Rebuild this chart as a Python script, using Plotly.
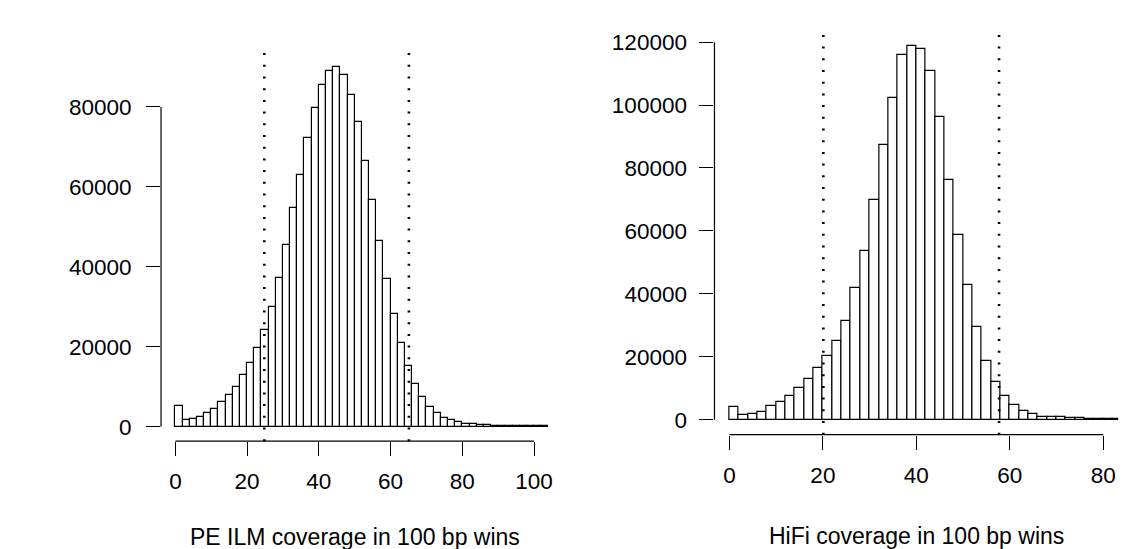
import plotly.graph_objects as go

W, H = 1130, 549
FONT = "Liberation Sans, Arial, Helvetica, sans-serif"

# ---------------- data ----------------
bin_width = 2
pe_counts = [5300, 1750, 2000, 2600, 3400, 4550, 6150, 7900, 10050, 13050,
             16050, 19850, 24350, 30100, 37150, 45500, 54700, 63100, 72250, 79750,
             85550, 89050, 89900, 88050, 83050, 76150, 66600, 56800, 46500, 36900,
             28350, 21050, 15200, 10650, 7550, 4900, 3500, 2350, 1650, 1150,
             850, 650, 500, 420, 340, 300, 250, 220, 200, 170, 150, 130]
hifi_counts = [4100, 1500, 1800, 2500, 4300, 5600, 7700, 10100, 12950, 16550,
               20150, 25000, 31550, 41750, 53700, 69950, 87350, 102300, 115800, 118800,
               117900, 110950, 96300, 76350, 58850, 42850, 29550, 18650, 11900, 7500,
               4750, 2850, 1700, 1050, 850, 750, 550, 450, 400, 350, 250, 200]

pe_xticks = [0, 20, 40, 60, 80, 100]
pe_yticks = [0, 20000, 40000, 60000, 80000]
hifi_xticks = [0, 20, 40, 60, 80]
hifi_yticks = [0, 20000, 40000, 60000, 80000, 100000, 120000]

pe_cutoffs = [24.8, 65.1]
hifi_cutoffs = [20.1, 57.7]

pe_xlim = [0, 100]
hifi_xlim = [0, 80]

pe_title = "PE ILM coverage in 100 bp wins"
hifi_title = "HiFi coverage in 100 bp wins"

# ---------------- helpers ----------------
def centers(counts):
    return [i * bin_width + bin_width / 2 for i in range(len(counts))]

def ext(lo, hi):
    d = (hi - lo) * 0.04
    return [lo - d, hi + d]

def fx(px):
    return px / W

def fy(py):
    return (H - py) / H

fig = go.Figure()

bar_style = dict(marker=dict(color="white", line=dict(color="black", width=1.2)),
                 width=bin_width, showlegend=False, hoverinfo="x+y")

fig.add_trace(go.Bar(x=centers(pe_counts), y=pe_counts, xaxis="x", yaxis="y", **bar_style))
fig.add_trace(go.Bar(x=centers(hifi_counts), y=hifi_counts, xaxis="x2", yaxis="y2", **bar_style))

tickfont = dict(family=FONT, size=22.5, color="black")
common = dict(showgrid=False, zeroline=False, showline=False, ticks="outside",
              ticklen=14, tickwidth=1.2, tickcolor="black", tickfont=tickfont)

pe_yrange = ext(0, max(pe_counts))
hifi_yrange = ext(0, max(hifi_counts))

fig.update_layout(
    width=W, height=H,
    margin=dict(l=0, r=0, t=0, b=0),
    paper_bgcolor="white", plot_bgcolor="white",
    bargap=0,
    xaxis=dict(domain=[fx(161.6), fx(550.4)], range=ext(*pe_xlim), anchor="y",
               tickvals=pe_xticks, ticktext=[str(v) for v in pe_xticks],
               ticklabelstandoff=6, **common),
    yaxis=dict(domain=[fy(441), fy(52)], range=pe_yrange, anchor="x",
               tickvals=pe_yticks, ticktext=[str(v) for v in pe_yticks],
               ticklabelstandoff=10, **common),
    xaxis2=dict(domain=[fx(717), fx(1122.2)], range=ext(*hifi_xlim), anchor="y2",
                tickvals=hifi_xticks, ticktext=[str(v) for v in hifi_xticks],
                ticklabelstandoff=6, **common),
    yaxis2=dict(domain=[fy(434.5), fy(30)], range=hifi_yrange, anchor="x2",
                tickvals=hifi_yticks, ticktext=[str(v) for v in hifi_yticks],
                ticklabelstandoff=8, **common),
)

shapes = []
line_style = dict(color="black", width=1.2)
dot_style = dict(color="black", width=2.6, dash="2px,9.7px")
for xr, yr, xt, yt, cuts in [("x", "y", pe_xticks, pe_yticks, pe_cutoffs),
                             ("x2", "y2", hifi_xticks, hifi_yticks, hifi_cutoffs)]:
    # x axis line (from first to last tick, R style)
    shapes.append(dict(type="line", xref=xr, yref=f"{yr} domain",
                       x0=min(xt), x1=max(xt), y0=0, y1=0, line=line_style))
    # y axis line
    shapes.append(dict(type="line", xref=f"{xr} domain", yref=yr,
                       x0=0, x1=0, y0=min(yt), y1=max(yt), line=line_style))
    for c in cuts:
        shapes.append(dict(type="line", xref=xr, yref=f"{yr} domain",
                           x0=c, x1=c, y0=0, y1=1, line=dot_style))
fig.update_layout(shapes=shapes)

titlefont = dict(family=FONT, size=23, color="black")
fig.add_annotation(text=pe_title, xref="paper", yref="paper",
                   x=fx((161.6 + 550.4) / 2), y=fy(537), xanchor="center", yanchor="middle",
                   showarrow=False, font=titlefont)
fig.add_annotation(text=hifi_title, xref="paper", yref="paper",
                   x=fx((717 + 1122.2) / 2), y=fy(536), xanchor="center", yanchor="middle",
                   showarrow=False, font=titlefont)

fig.write_html("out.html", config={"displayModeBar": False},
               post_script="document.body.style.margin='0';document.body.style.padding='0';")
